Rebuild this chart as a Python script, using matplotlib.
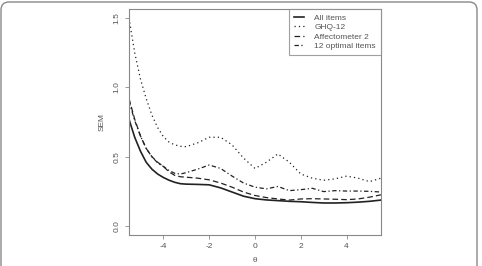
import numpy as np
import matplotlib
matplotlib.use("Agg")
import matplotlib.pyplot as plt
from matplotlib.patches import FancyBboxPatch

plt.rcParams['font.family'] = ['Liberation Sans', 'DejaVu Sans']
plt.rcParams['axes.unicode_minus'] = False

# theta grid points
theta = [-5.5, -5.25, -5.0, -4.75, -4.5, -4.25, -4.0, -3.75, -3.5, -3.25, -3.0,
         -2.5, -2.0, -1.5, -1.0, -0.5, 0.0, 0.5, 1.0, 1.5, 2.0, 2.5, 3.0,
         3.5, 4.0, 4.5, 5.0, 5.5]

all_items = [0.77, 0.64, 0.54, 0.46, 0.41, 0.375, 0.35, 0.33, 0.315, 0.305, 0.302,
             0.30, 0.297, 0.275, 0.245, 0.215, 0.197, 0.188, 0.183, 0.178, 0.175, 0.170, 0.166,
             0.166, 0.168, 0.172, 0.178, 0.187]

ghq12 = [1.50, 1.25, 1.06, 0.92, 0.80, 0.71, 0.645, 0.605, 0.585, 0.575, 0.572,
         0.60, 0.64, 0.64, 0.585, 0.49, 0.415, 0.46, 0.52, 0.46, 0.375, 0.345, 0.330,
         0.340, 0.360, 0.345, 0.320, 0.345]

affectometer2 = [0.92, 0.77, 0.65, 0.56, 0.50, 0.46, 0.43, 0.39, 0.365, 0.355, 0.352,
                 0.345, 0.333, 0.31, 0.28, 0.245, 0.22, 0.205, 0.195, 0.187, 0.195, 0.197, 0.195,
                 0.193, 0.190, 0.195, 0.208, 0.225]

optimal12 = [0.90, 0.76, 0.65, 0.56, 0.50, 0.455, 0.43, 0.40, 0.38, 0.375, 0.385,
             0.41, 0.44, 0.415, 0.36, 0.31, 0.28, 0.268, 0.285, 0.255, 0.262, 0.272, 0.248,
             0.255, 0.252, 0.252, 0.250, 0.245]

labels = ['All items', 'GHQ-12', 'Affectometer 2', '12 optimal items']
styles = ['-', (0, (1, 2.5)), (0, (4.5, 2.5)), (0, (3.5, 2, 1, 2))]
widths = [1.2, 0.9, 0.9, 0.9]

fig = plt.figure(figsize=(4.82, 2.66), dpi=100)
ax = fig.add_axes([0.2676, 0.1165, 0.5228, 0.8496])

for y, lab, ls, lw in zip([all_items, ghq12, affectometer2, optimal12], labels, styles, widths):
    ax.plot(theta, y, color='#222222', linestyle=ls, linewidth=lw, label=lab)

ax.set_xlim(-5.5, 5.5)
ax.set_ylim(-0.065, 1.565)
ax.set_xticks([-4, -2, 0, 2, 4])
ax.set_yticks([0.0, 0.5, 1.0, 1.5])
ax.set_yticklabels(['0.0', '0.5', '1.0', '1.5'], rotation=90, va='center')
ax.tick_params(labelsize=6, length=3, width=0.6, colors='#888888', labelcolor='#555555', pad=3)
for s in ax.spines.values():
    s.set_color('#888888')
    s.set_linewidth(0.8)
ax.set_xlabel('θ', fontsize=6, color='#555555', labelpad=5)
ax.set_ylabel('SEM', fontsize=6, color='#555555', labelpad=6)

leg = ax.legend(loc='upper right', fontsize=6, frameon=True, fancybox=False,
                borderaxespad=0, handlelength=1.3, handletextpad=1.2,
                labelspacing=0.2, borderpad=0.6)
leg.get_frame().set_edgecolor('#888888')
leg.get_frame().set_linewidth(0.8)
for t in leg.get_texts():
    t.set_color('#555555')

# outer rounded frame of the screenshot
frame = FancyBboxPatch((0.01, -0.3), 4.76, 2.94, boxstyle='round,pad=0,rounding_size=0.08',
                       transform=fig.dpi_scale_trans, facecolor='none',
                       edgecolor='#888888', linewidth=1.0, clip_on=False)
fig.patches.append(frame)

fig.savefig('out.png', dpi=100)
